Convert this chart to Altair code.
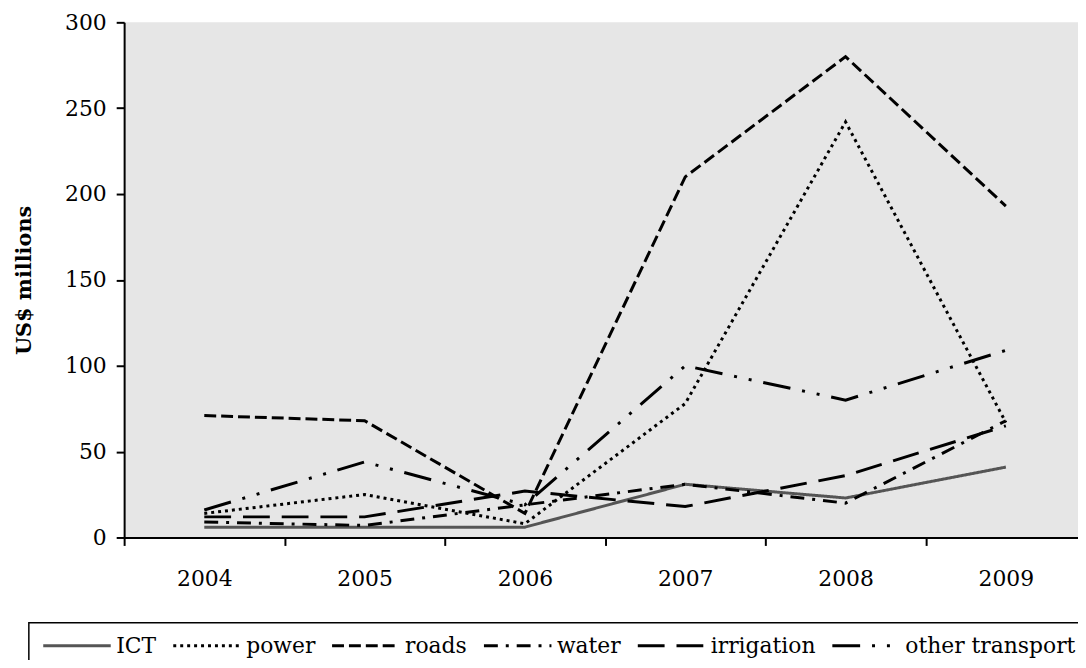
import altair as alt
import pandas as pd

years = [2004, 2005, 2006, 2007, 2008, 2009]
series = ["ICT", "power", "roads", "water", "irrigation", "other transport"]
ict = [6, 6, 6, 31, 23, 41]
power = [14, 25, 8, 78, 242, 67]
roads = [71, 68, 14, 210, 280, 193]
water = [9, 7, 19, 31, 20, 68]
irrigation = [12, 12, 27, 18, 36, 65]
other_transport = [16, 44, 19, 100, 80, 109]

values = [ict, power, roads, water, irrigation, other_transport]
rows = []
for name, vals in zip(series, values):
    for y, v in zip(years, vals):
        rows.append({"year": y, "series": name, "value": v})
df = pd.DataFrame(rows)

colors = ["#555555", "black", "black", "black", "black", "black"]
dashes = [[1, 0], [3, 4], [12, 5], [14, 8, 3, 8], [27, 12], [28, 12, 3, 12, 3, 12]]

FONT = "DejaVu Serif"

legend = alt.Legend(
    title=None,
    orient="none",
    legendX=-96,
    legendY=605,
    direction="horizontal",
    symbolType="M-1,0L7,0",
    symbolSize=289,
    symbolStrokeWidth=3,
    labelFont=FONT,
    labelFontSize=22,
    labelColor="black",
    labelLimit=400,
    labelOffset=54,
    columnPadding=10,
    padding=12,
    strokeColor="black",
)

chart = (
    alt.Chart(df)
    .mark_line(strokeWidth=3)
    .encode(
        x=alt.X(
            "year:Q",
            scale=alt.Scale(domain=[2003.5, 2009.45], nice=False, zero=False),
            axis=alt.Axis(
                title=None,
                values=[2003.5, 2004.5, 2005.5, 2006.5, 2007.5, 2008.5],
                labelExpr="format(datum.value + 0.5, 'd')",
                labelOffset=80.75,
                labelFlush=False,
                labelOverlap=False,
                labelBound=False,
                tickSize=8,
                tickWidth=2,
                tickColor="black",
                domainColor="black",
                domainWidth=2,
                labelPadding=23,
                labelFont=FONT,
                labelFontSize=22,
                labelColor="black",
                grid=False,
            ),
        ),
        y=alt.Y(
            "value:Q",
            scale=alt.Scale(domain=[0, 300], nice=False),
            axis=alt.Axis(
                title="US$ millions",
                titleFont=FONT,
                titleFontSize=21,
                titleFontWeight="bold",
                titleColor="black",
                titleAngle=270,
                titleX=-100,
                titleY=259.5,
                titleAlign="center",
                titleBaseline="middle",
                values=[0, 50, 100, 150, 200, 250, 300],
                tickSize=8,
                tickWidth=2,
                tickColor="black",
                domainColor="black",
                domainWidth=2,
                labelPadding=10,
                labelFont=FONT,
                labelFontSize=22,
                labelColor="black",
                grid=False,
            ),
        ),
        color=alt.Color(
            "series:N",
            scale=alt.Scale(domain=series, range=colors),
            sort=series,
            legend=legend,
        ),
        strokeDash=alt.StrokeDash(
            "series:N",
            scale=alt.Scale(domain=series, range=dashes),
            sort=series,
            legend=legend,
        ),
    )
    .properties(
        width=961,
        height=519,
        autosize=alt.AutoSizeParams(type="none"),
        padding={"left": 117, "top": 12, "right": 0, "bottom": 121},
        background="white",
    )
    .configure_view(fill="#e6e6e6", strokeWidth=0)
    .configure_legend(strokeWidth=1.5)
)

chart.save("out.html", embed_options={"renderer": "svg", "actions": False})
